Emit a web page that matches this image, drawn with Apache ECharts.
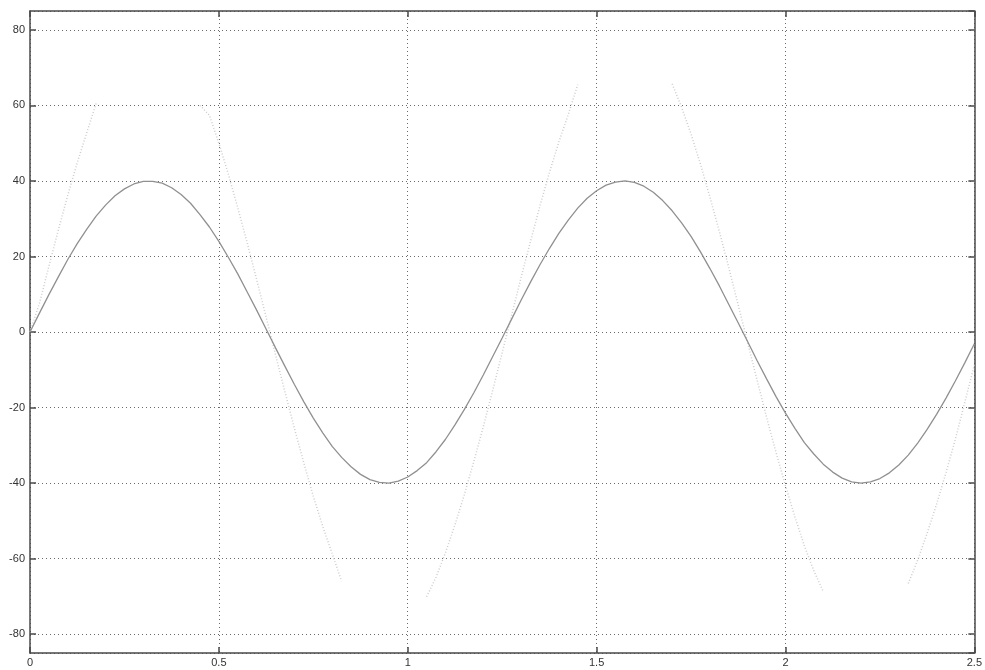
<!DOCTYPE html>
<html>
<head>
<meta charset="utf-8">
<script src="https://cdn.jsdelivr.net/npm/echarts@6/dist/echarts.min.js"></script>
<style>html,body{margin:0;padding:0;background:#fff;}#c{width:985px;height:670px;}</style>
</head>
<body>
<div id="c"></div>
<script>
// x ticks and y ticks
var xTicks = [0, 0.5, 1, 1.5, 2, 2.5];
var yTicks = [-80, -60, -40, -20, 0, 20, 40, 60, 80];

// sample positions (shared by both curves)
var xs = [0,0.025,0.05,0.075,0.1,0.125,0.15,0.175,0.2,0.225,0.25,0.275,0.3,0.325,0.35,0.375,0.4,0.425,0.45,0.475,0.5,0.525,0.55,0.575,0.6,0.625,0.65,0.675,0.7,0.725,0.75,0.775,0.8,0.825,0.85,0.875,0.9,0.925,0.95,0.975,1,1.025,1.05,1.075,1.1,1.125,1.15,1.175,1.2,1.225,1.25,1.275,1.3,1.325,1.35,1.375,1.4,1.425,1.45,1.475,1.5,1.525,1.55,1.575,1.6,1.625,1.65,1.675,1.7,1.725,1.75,1.775,1.8,1.825,1.85,1.875,1.9,1.925,1.95,1.975,2,2.025,2.05,2.075,2.1,2.125,2.15,2.175,2.2,2.225,2.25,2.275,2.3,2.325,2.35,2.375,2.4,2.425,2.45,2.475,2.5];

// main sine (darker) curve
var mainY = [0,5.0,9.9,14.6,19.2,23.4,27.2,30.7,33.6,36.1,
  37.9,39.2,39.9,39.9,39.4,38.2,36.4,34.1,31.1,27.8,
  24.0,19.8,15.4,10.6,5.8,0.8,-4.2,-9.1,-13.9,-18.5,
  -22.8,-26.7,-30.3,-33.2,-35.7,-37.7,-39.1,-39.8,-40.0,-39.5,
  -38.4,-36.7,-34.6,-31.7,-28.4,-24.6,-20.5,-16.1,-11.4,-6.5,
  -1.6,3.4,8.4,13.2,17.8,22.1,26.1,29.6,32.8,35.4,
  37.4,38.9,39.7,40.0,39.6,38.6,37.0,34.8,32.1,28.9,
  25.3,21.2,16.8,12.2,7.3,2.4,-2.6,-7.6,-12.4,-17.1,
  -21.5,-25.5,-29.3,-32.3,-35.0,-37.1,-38.7,-39.7,-40.0,-39.7,
  -38.8,-37.3,-35.2,-32.6,-29.4,-25.8,-21.8,-17.5,-12.9,-8.1,
  -3.1];

// faint large curve (peaks faded out in the picture -> null)
var faintY = [0,7.6,17.4,27.0,36.2,44.8,52.7,60.5,
  null,null,null,null,null,null,null,null,null,null,
  60,57.4,50.0,41.8,32.9,23.6,13.9,4.0,-6.0,-15.9,-25.5,-34.7,-43.5,-51.5,-58.7,-66.0,
  null,null,null,null,null,null,null,null,
  -70.1,-64.9,-58.4,-51.1,-43.0,-34.3,-25.1,-15.4,-5.5,4.4,14.4,24.0,33.4,42.2,50.3,57.6,65.5,
  null,null,null,null,null,null,null,null,null,
  65.7,59.5,52.4,44.4,35.7,26.6,17.0,7.1,-2.9,-12.8,-22.6,-31.9,-40.7,-49.0,-56.6,-63.2,-68.7,
  null,null,null,null,null,null,null,null,
  -66.6,-60.4,-53.3,-45.6,-37.2,-28.3,-18.5,-8.7];

function pairs(x, y) {
  var out = [];
  for (var i = 0; i < x.length; i++) out.push([x[i], y[i]]);
  return out;
}

var frameColor = '#4a4a4a';
var gridLine = {show: true, lineStyle: {color: '#6a6a6a', width: 1, type: [1, 3]}};
var lbl = {color: '#333', fontFamily: 'Liberation Sans, Arial, sans-serif', fontSize: 11};

var chart = echarts.init(document.getElementById('c'), null, {renderer: 'canvas'});
chart.setOption({
  animation: false,
  backgroundColor: '#fff',
  grid: {left: 30, right: 10, top: 11, bottom: 17, containLabel: false},
  xAxis: [{
    type: 'value', position: 'bottom', min: xTicks[0], max: xTicks[xTicks.length - 1], interval: 0.5,
    axisLine: {show: true, onZero: false, lineStyle: {color: frameColor, width: 1.5}},
    axisTick: {show: true, inside: true, length: 6, lineStyle: {color: frameColor, width: 1.5}},
    axisLabel: Object.assign({margin: 4, showMaxLabel: true, formatter: function (v) { return xTicks.indexOf(v) >= 0 ? String(v) : ''; }}, lbl),
    splitLine: gridLine
  }, {
    type: 'value', position: 'top', min: xTicks[0], max: xTicks[xTicks.length - 1], interval: 0.5,
    axisLine: {show: true, onZero: false, lineStyle: {color: frameColor, width: 1.5}},
    axisTick: {show: true, inside: true, length: 6, lineStyle: {color: frameColor, width: 1.5}},
    axisLabel: {show: false},
    splitLine: {show: false}
  }],
  yAxis: [{
    type: 'value', position: 'left', min: -85, max: 85, splitNumber: 8, minInterval: 20, maxInterval: 20,
    axisLine: {show: true, onZero: false, lineStyle: {color: frameColor, width: 1.5}},
    axisTick: {show: true, inside: true, length: 6, lineStyle: {color: frameColor, width: 1.5}},
    axisLabel: Object.assign({margin: 5, showMinLabel: false, showMaxLabel: false,
      formatter: function (v) { return yTicks.indexOf(v) >= 0 ? String(v) : ''; }}, lbl),
    splitLine: gridLine
  }, {
    type: 'value', position: 'right', min: -85, max: 85, splitNumber: 8, minInterval: 20, maxInterval: 20,
    axisLine: {show: true, onZero: false, lineStyle: {color: frameColor, width: 1.5}},
    axisTick: {show: true, inside: true, length: 6, lineStyle: {color: frameColor, width: 1.5}},
    axisLabel: {show: false},
    splitLine: {show: false}
  }],
  series: [{
    type: 'line', name: 'faint', xAxisIndex: 0, yAxisIndex: 0,
    data: pairs(xs, faintY), showSymbol: false, smooth: false, connectNulls: false,
    lineStyle: {color: '#cdcdcd', width: 1.5, type: [1, 2]}
  }, {
    type: 'line', name: 'main', xAxisIndex: 0, yAxisIndex: 0,
    data: pairs(xs, mainY), showSymbol: false, smooth: false,
    lineStyle: {color: '#909090', width: 1.3}
  }]
});
</script>
</body>
</html>
